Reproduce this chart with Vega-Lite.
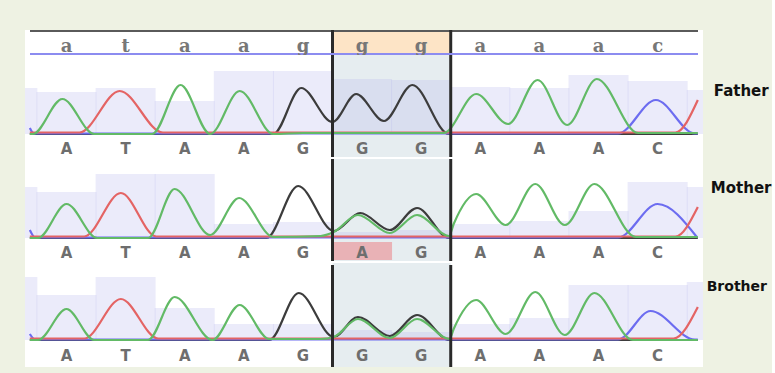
{
  "$schema": "https://vega.github.io/schema/vega-lite/v6.json",
  "background": "#eef2e3",
  "padding": {"left": 25, "top": 28, "right": 0, "bottom": 8},
  "spacing": 0,
  "bounds": "flush",
  "config": {"view": {"fill": "white", "stroke": null}, "axis": {"disable": true}},
  "datasets": {
    "bases": [
      {"pos": 0, "ref": "a", "father": "A", "mother": "A", "brother": "A", "target": false},
      {"pos": 1, "ref": "t", "father": "T", "mother": "T", "brother": "T", "target": false},
      {"pos": 2, "ref": "a", "father": "A", "mother": "A", "brother": "A", "target": false},
      {"pos": 3, "ref": "a", "father": "A", "mother": "A", "brother": "A", "target": false},
      {"pos": 4, "ref": "g", "father": "G", "mother": "G", "brother": "G", "target": false},
      {"pos": 5, "ref": "g", "father": "G", "mother": "A", "brother": "G", "target": true},
      {"pos": 6, "ref": "g", "father": "G", "mother": "G", "brother": "G", "target": true},
      {"pos": 7, "ref": "a", "father": "A", "mother": "A", "brother": "A", "target": false},
      {"pos": 8, "ref": "a", "father": "A", "mother": "A", "brother": "A", "target": false},
      {"pos": 9, "ref": "a", "father": "A", "mother": "A", "brother": "A", "target": false},
      {"pos": 10, "ref": "c", "father": "C", "mother": "C", "brother": "C", "target": false}
    ],
    "qF": [
      {"pos": -1, "q": 46}, {"pos": 0, "q": 42}, {"pos": 1, "q": 46}, {"pos": 2, "q": 33}, {"pos": 3, "q": 63},
      {"pos": 4, "q": 63}, {"pos": 5, "q": 55}, {"pos": 6, "q": 54}, {"pos": 7, "q": 47}, {"pos": 8, "q": 46},
      {"pos": 9, "q": 59}, {"pos": 10, "q": 53}, {"pos": 11, "q": 44}
    ],
    "qM": [
      {"pos": -1, "q": 51}, {"pos": 0, "q": 46}, {"pos": 1, "q": 64}, {"pos": 2, "q": 64}, {"pos": 3, "q": 14},
      {"pos": 4, "q": 16}, {"pos": 5, "q": 6}, {"pos": 6, "q": 8}, {"pos": 7, "q": 14}, {"pos": 8, "q": 17},
      {"pos": 9, "q": 27}, {"pos": 10, "q": 56}, {"pos": 11, "q": 51}
    ],
    "qB": [
      {"pos": -1, "q": 63}, {"pos": 0, "q": 45}, {"pos": 1, "q": 63}, {"pos": 2, "q": 32}, {"pos": 3, "q": 16},
      {"pos": 4, "q": 16}, {"pos": 5, "q": 10}, {"pos": 6, "q": 8}, {"pos": 7, "q": 16}, {"pos": 8, "q": 22},
      {"pos": 9, "q": 55}, {"pos": 10, "q": 55}, {"pos": 11, "q": 58}
    ],
    "tF": [
      {"ch": "G", "x": -0.62, "y": 0}, {"ch": "G", "x": 3.5, "y": 0}, {"ch": "G", "x": 3.97, "y": 46}, {"ch": "G", "x": 4.5, "y": 12}, {"ch": "G", "x": 4.9, "y": 40}, {"ch": "G", "x": 5.37, "y": 13}, {"ch": "G", "x": 5.85, "y": 49}, {"ch": "G", "x": 6.47, "y": 0}, {"ch": "G", "x": 10.68, "y": 0},
      {"ch": "C", "x": -0.62, "y": 6}, {"ch": "C", "x": -0.55, "y": 0.5}, {"ch": "C", "x": 9.33, "y": 0.5}, {"ch": "C", "x": 9.97, "y": 34}, {"ch": "C", "x": 10.63, "y": 0.5}, {"ch": "C", "x": 10.68, "y": 0.5},
      {"ch": "T", "x": -0.62, "y": 1.5}, {"ch": "T", "x": 0.22, "y": 1.5}, {"ch": "T", "x": 0.9, "y": 43}, {"ch": "T", "x": 1.63, "y": 1.5}, {"ch": "T", "x": 10.3, "y": 1.5}, {"ch": "T", "x": 10.68, "y": 34},
      {"ch": "A", "x": -0.62, "y": 0}, {"ch": "A", "x": -0.57, "y": 0}, {"ch": "A", "x": -0.07, "y": 35}, {"ch": "A", "x": 0.47, "y": 0}, {"ch": "A", "x": 1.45, "y": 0}, {"ch": "A", "x": 1.93, "y": 49}, {"ch": "A", "x": 2.43, "y": 0}, {"ch": "A", "x": 2.93, "y": 43}, {"ch": "A", "x": 3.5, "y": 0}, {"ch": "A", "x": 4.0, "y": 1}, {"ch": "A", "x": 6.38, "y": 1}, {"ch": "A", "x": 6.93, "y": 40}, {"ch": "A", "x": 7.47, "y": 10}, {"ch": "A", "x": 7.97, "y": 54}, {"ch": "A", "x": 8.47, "y": 9}, {"ch": "A", "x": 8.97, "y": 55}, {"ch": "A", "x": 9.67, "y": 1}, {"ch": "A", "x": 10.68, "y": 1}
    ],
    "tM": [
      {"ch": "G", "x": -0.62, "y": 0}, {"ch": "G", "x": 3.38, "y": 0}, {"ch": "G", "x": 3.92, "y": 52}, {"ch": "G", "x": 4.52, "y": 7}, {"ch": "G", "x": 4.97, "y": 25}, {"ch": "G", "x": 5.47, "y": 8}, {"ch": "G", "x": 5.93, "y": 30}, {"ch": "G", "x": 6.47, "y": 0}, {"ch": "G", "x": 10.68, "y": 0},
      {"ch": "C", "x": -0.62, "y": 8}, {"ch": "C", "x": -0.53, "y": 0.5}, {"ch": "C", "x": 9.33, "y": 0.5}, {"ch": "C", "x": 10.0, "y": 34}, {"ch": "C", "x": 10.67, "y": 0.5},
      {"ch": "T", "x": -0.62, "y": 1.5}, {"ch": "T", "x": 0.3, "y": 1.5}, {"ch": "T", "x": 0.92, "y": 45}, {"ch": "T", "x": 1.52, "y": 1.5}, {"ch": "T", "x": 10.3, "y": 1.5}, {"ch": "T", "x": 10.68, "y": 31},
      {"ch": "A", "x": -0.62, "y": 0}, {"ch": "A", "x": -0.48, "y": 0}, {"ch": "A", "x": 0.0, "y": 34}, {"ch": "A", "x": 0.52, "y": 0}, {"ch": "A", "x": 1.38, "y": 0}, {"ch": "A", "x": 1.83, "y": 49}, {"ch": "A", "x": 2.43, "y": 3}, {"ch": "A", "x": 2.92, "y": 40}, {"ch": "A", "x": 3.5, "y": 1}, {"ch": "A", "x": 4.3, "y": 2}, {"ch": "A", "x": 4.52, "y": 6}, {"ch": "A", "x": 4.93, "y": 23}, {"ch": "A", "x": 5.47, "y": 5}, {"ch": "A", "x": 5.93, "y": 23}, {"ch": "A", "x": 6.47, "y": 2}, {"ch": "A", "x": 6.55, "y": 14}, {"ch": "A", "x": 6.93, "y": 44}, {"ch": "A", "x": 7.43, "y": 13}, {"ch": "A", "x": 7.93, "y": 54}, {"ch": "A", "x": 8.43, "y": 13}, {"ch": "A", "x": 8.93, "y": 54}, {"ch": "A", "x": 9.63, "y": 1}, {"ch": "A", "x": 10.68, "y": 1}
    ],
    "tB": [
      {"ch": "G", "x": -0.62, "y": 0}, {"ch": "G", "x": 3.43, "y": 0}, {"ch": "G", "x": 3.93, "y": 47}, {"ch": "G", "x": 4.52, "y": 3}, {"ch": "G", "x": 4.93, "y": 23}, {"ch": "G", "x": 5.47, "y": 4}, {"ch": "G", "x": 5.93, "y": 25}, {"ch": "G", "x": 6.48, "y": 0}, {"ch": "G", "x": 10.68, "y": 0},
      {"ch": "C", "x": -0.62, "y": 6}, {"ch": "C", "x": -0.53, "y": 0.5}, {"ch": "C", "x": 9.33, "y": 0.5}, {"ch": "C", "x": 9.88, "y": 29}, {"ch": "C", "x": 10.63, "y": 0.5}, {"ch": "C", "x": 10.68, "y": 0.5},
      {"ch": "T", "x": -0.62, "y": 1.5}, {"ch": "T", "x": 0.3, "y": 1.5}, {"ch": "T", "x": 0.92, "y": 41}, {"ch": "T", "x": 1.55, "y": 1.5}, {"ch": "T", "x": 10.27, "y": 1.5}, {"ch": "T", "x": 10.68, "y": 33},
      {"ch": "A", "x": -0.62, "y": 0}, {"ch": "A", "x": -0.48, "y": 0}, {"ch": "A", "x": 0.0, "y": 31}, {"ch": "A", "x": 0.47, "y": 0}, {"ch": "A", "x": 1.38, "y": 0}, {"ch": "A", "x": 1.83, "y": 43}, {"ch": "A", "x": 2.47, "y": 0}, {"ch": "A", "x": 2.93, "y": 35}, {"ch": "A", "x": 3.43, "y": 1}, {"ch": "A", "x": 4.3, "y": 1}, {"ch": "A", "x": 4.52, "y": 3}, {"ch": "A", "x": 4.93, "y": 21}, {"ch": "A", "x": 5.47, "y": 2}, {"ch": "A", "x": 5.93, "y": 21}, {"ch": "A", "x": 6.48, "y": 1}, {"ch": "A", "x": 6.55, "y": 11}, {"ch": "A", "x": 6.93, "y": 40}, {"ch": "A", "x": 7.43, "y": 6}, {"ch": "A", "x": 7.93, "y": 48}, {"ch": "A", "x": 8.43, "y": 5}, {"ch": "A", "x": 8.93, "y": 47}, {"ch": "A", "x": 9.58, "y": 0}, {"ch": "A", "x": 10.68, "y": 0}
    ]
  },
  "vconcat": [
    {
      "width": 678, "height": 25,
      "layer": [
        {"data": {"name": "bases"}, "transform": [{"filter": "datum.target"}],
         "mark": {"type": "bar", "orient": "vertical", "width": 60, "color": "#fde4c6"},
         "encoding": {"x": {"field": "pos", "type": "quantitative", "scale": {"domain": [-0.617, 10.683]}},
                      "y": {"datum": 1, "type": "quantitative", "scale": {"domain": [0, 25]}}, "y2": {"datum": 24}}},
        {"data": {"values": [{}]}, "mark": {"type": "rule", "color": "#5a5a5a", "strokeWidth": 2},
         "encoding": {"x": {"datum": -0.617, "type": "quantitative", "scale": {"domain": [-0.617, 10.683]}}, "x2": {"datum": 10.683},
                      "y": {"datum": 24, "type": "quantitative", "scale": {"domain": [0, 25]}}}},
        {"data": {"values": [{}]}, "mark": {"type": "rule", "color": "#8c8cf0", "strokeWidth": 2},
         "encoding": {"x": {"datum": -0.617, "type": "quantitative", "scale": {"domain": [-0.617, 10.683]}}, "x2": {"datum": 10.683},
                      "y": {"datum": 1, "type": "quantitative", "scale": {"domain": [0, 25]}}}},
        {"data": {"values": [{}]}, "mark": {"type": "rule", "color": "#2a2a2a", "strokeWidth": 3},
         "encoding": {"x": {"datum": 4.5, "type": "quantitative", "scale": {"domain": [-0.617, 10.683]}},
                      "y": {"datum": 2, "type": "quantitative", "scale": {"domain": [0, 25]}}, "y2": {"datum": 25}}},
        {"data": {"values": [{}]}, "mark": {"type": "rule", "color": "#2a2a2a", "strokeWidth": 3},
         "encoding": {"x": {"datum": 6.5, "type": "quantitative", "scale": {"domain": [-0.617, 10.683]}},
                      "y": {"datum": 2, "type": "quantitative", "scale": {"domain": [0, 25]}}, "y2": {"datum": 25}}},
        {"data": {"name": "bases"},
         "mark": {"type": "text", "font": "DejaVu Serif", "fontWeight": "bold", "fontSize": 18, "color": "#777777", "baseline": "alphabetic"},
         "encoding": {"x": {"field": "pos", "type": "quantitative", "scale": {"domain": [-0.617, 10.683]}},
                      "y": {"datum": 3.5, "type": "quantitative", "scale": {"domain": [0, 25]}},
                      "text": {"field": "ref"}}}
      ]
    },
    {
      "width": 678, "height": 104,
      "layer": [
        {"data": {"values": [{}]}, "mark": {"type": "rect", "color": "#e6edf0"},
         "encoding": {"x": {"datum": 4.5, "type": "quantitative", "scale": {"domain": [-0.617, 10.683]}}, "x2": {"datum": 6.5},
                      "y": {"datum": -23, "type": "quantitative", "scale": {"domain": [-25, 79]}}, "y2": {"datum": 79}}},
        {"data": {"name": "qF"}, "mark": {"type": "bar", "orient": "vertical", "width": 60, "color": "#b8b8ee", "opacity": 0.28, "clip": true},
         "encoding": {"x": {"field": "pos", "type": "quantitative", "scale": {"domain": [-0.617, 10.683]}},
                      "y": {"field": "q", "type": "quantitative", "scale": {"domain": [-25, 79]}}}},
        {"data": {"name": "tF"}, "mark": {"type": "line", "interpolate": "monotone", "strokeWidth": 2.2, "clip": true},
         "encoding": {"x": {"field": "x", "type": "quantitative", "scale": {"domain": [-0.617, 10.683]}},
                      "y": {"field": "y", "type": "quantitative", "scale": {"domain": [-25, 79]}},
                      "color": {"field": "ch", "type": "nominal", "legend": null,
                                "scale": {"domain": ["G", "C", "T", "A"], "range": ["#3c3c3c", "#6c6cf0", "#e46464", "#62ba66"]}}}},
        {"data": {"values": [{}]}, "mark": {"type": "rule", "color": "#2a2a2a", "strokeWidth": 3},
         "encoding": {"x": {"datum": 4.5, "type": "quantitative", "scale": {"domain": [-0.617, 10.683]}},
                      "y": {"datum": -23, "type": "quantitative", "scale": {"domain": [-25, 79]}}, "y2": {"datum": 79}}},
        {"data": {"values": [{}]}, "mark": {"type": "rule", "color": "#2a2a2a", "strokeWidth": 3},
         "encoding": {"x": {"datum": 6.5, "type": "quantitative", "scale": {"domain": [-0.617, 10.683]}},
                      "y": {"datum": -23, "type": "quantitative", "scale": {"domain": [-25, 79]}}, "y2": {"datum": 79}}},
        {"data": {"name": "bases"},
         "mark": {"type": "text", "font": "DejaVu Sans", "fontWeight": "bold", "fontSize": 15, "color": "#6e6e6e", "baseline": "middle"},
         "encoding": {"x": {"field": "pos", "type": "quantitative", "scale": {"domain": [-0.617, 10.683]}},
                      "y": {"datum": -15, "type": "quantitative", "scale": {"domain": [-25, 79]}},
                      "text": {"field": "father"}}},
        {"data": {"values": [{}]},
         "mark": {"type": "text", "text": "Father", "font": "DejaVu Sans", "fontWeight": "bold", "fontSize": 15, "color": "#111111", "align": "left", "baseline": "middle"},
         "encoding": {"x": {"datum": 10.95, "type": "quantitative", "scale": {"domain": [-0.617, 10.683]}},
                      "y": {"datum": 43, "type": "quantitative", "scale": {"domain": [-25, 79]}}}}
      ]
    },
    {
      "width": 678, "height": 104,
      "layer": [
        {"data": {"values": [{}]}, "mark": {"type": "rect", "color": "#e6edf0"},
         "encoding": {"x": {"datum": 4.5, "type": "quantitative", "scale": {"domain": [-0.617, 10.683]}}, "x2": {"datum": 6.5},
                      "y": {"datum": -23, "type": "quantitative", "scale": {"domain": [-25, 79]}}, "y2": {"datum": 79}}},
        {"data": {"name": "qM"}, "mark": {"type": "bar", "orient": "vertical", "width": 60, "color": "#b8b8ee", "opacity": 0.28, "clip": true},
         "encoding": {"x": {"field": "pos", "type": "quantitative", "scale": {"domain": [-0.617, 10.683]}},
                      "y": {"field": "q", "type": "quantitative", "scale": {"domain": [-25, 79]}}}},
        {"data": {"name": "bases"}, "transform": [{"filter": "datum.mother != upper(datum.ref)"}],
         "mark": {"type": "bar", "orient": "vertical", "width": 60, "color": "#e9b2b6"},
         "encoding": {"x": {"field": "pos", "type": "quantitative", "scale": {"domain": [-0.617, 10.683]}},
                      "y": {"datum": -22, "type": "quantitative", "scale": {"domain": [-25, 79]}}, "y2": {"datum": -4}}},
        {"data": {"name": "tM"}, "mark": {"type": "line", "interpolate": "monotone", "strokeWidth": 2.2, "clip": true},
         "encoding": {"x": {"field": "x", "type": "quantitative", "scale": {"domain": [-0.617, 10.683]}},
                      "y": {"field": "y", "type": "quantitative", "scale": {"domain": [-25, 79]}},
                      "color": {"field": "ch", "type": "nominal", "legend": null,
                                "scale": {"domain": ["G", "C", "T", "A"], "range": ["#3c3c3c", "#6c6cf0", "#e46464", "#62ba66"]}}}},
        {"data": {"values": [{}]}, "mark": {"type": "rule", "color": "#2a2a2a", "strokeWidth": 3},
         "encoding": {"x": {"datum": 4.5, "type": "quantitative", "scale": {"domain": [-0.617, 10.683]}},
                      "y": {"datum": -23, "type": "quantitative", "scale": {"domain": [-25, 79]}}, "y2": {"datum": 79}}},
        {"data": {"values": [{}]}, "mark": {"type": "rule", "color": "#2a2a2a", "strokeWidth": 3},
         "encoding": {"x": {"datum": 6.5, "type": "quantitative", "scale": {"domain": [-0.617, 10.683]}},
                      "y": {"datum": -23, "type": "quantitative", "scale": {"domain": [-25, 79]}}, "y2": {"datum": 79}}},
        {"data": {"name": "bases"},
         "mark": {"type": "text", "font": "DejaVu Sans", "fontWeight": "bold", "fontSize": 15, "color": "#6e6e6e", "baseline": "middle"},
         "encoding": {"x": {"field": "pos", "type": "quantitative", "scale": {"domain": [-0.617, 10.683]}},
                      "y": {"datum": -15, "type": "quantitative", "scale": {"domain": [-25, 79]}},
                      "text": {"field": "mother"}}},
        {"data": {"values": [{}]},
         "mark": {"type": "text", "text": "Mother", "font": "DejaVu Sans", "fontWeight": "bold", "fontSize": 15, "color": "#111111", "align": "left", "baseline": "middle"},
         "encoding": {"x": {"datum": 10.9, "type": "quantitative", "scale": {"domain": [-0.617, 10.683]}},
                      "y": {"datum": 50, "type": "quantitative", "scale": {"domain": [-25, 79]}}}}
      ]
    },
    {
      "width": 678, "height": 104,
      "layer": [
        {"data": {"values": [{}]}, "mark": {"type": "rect", "color": "#e6edf0"},
         "encoding": {"x": {"datum": 4.5, "type": "quantitative", "scale": {"domain": [-0.617, 10.683]}}, "x2": {"datum": 6.5},
                      "y": {"datum": -27, "type": "quantitative", "scale": {"domain": [-27, 77]}}, "y2": {"datum": 77}}},
        {"data": {"name": "qB"}, "mark": {"type": "bar", "orient": "vertical", "width": 60, "color": "#b8b8ee", "opacity": 0.28, "clip": true},
         "encoding": {"x": {"field": "pos", "type": "quantitative", "scale": {"domain": [-0.617, 10.683]}},
                      "y": {"field": "q", "type": "quantitative", "scale": {"domain": [-27, 77]}}}},
        {"data": {"name": "tB"}, "mark": {"type": "line", "interpolate": "monotone", "strokeWidth": 2.2, "clip": true},
         "encoding": {"x": {"field": "x", "type": "quantitative", "scale": {"domain": [-0.617, 10.683]}},
                      "y": {"field": "y", "type": "quantitative", "scale": {"domain": [-27, 77]}},
                      "color": {"field": "ch", "type": "nominal", "legend": null,
                                "scale": {"domain": ["G", "C", "T", "A"], "range": ["#3c3c3c", "#6c6cf0", "#e46464", "#62ba66"]}}}},
        {"data": {"values": [{}]}, "mark": {"type": "rule", "color": "#2a2a2a", "strokeWidth": 3},
         "encoding": {"x": {"datum": 4.5, "type": "quantitative", "scale": {"domain": [-0.617, 10.683]}},
                      "y": {"datum": -27, "type": "quantitative", "scale": {"domain": [-27, 77]}}, "y2": {"datum": 75}}},
        {"data": {"values": [{}]}, "mark": {"type": "rule", "color": "#2a2a2a", "strokeWidth": 3},
         "encoding": {"x": {"datum": 6.5, "type": "quantitative", "scale": {"domain": [-0.617, 10.683]}},
                      "y": {"datum": -27, "type": "quantitative", "scale": {"domain": [-27, 77]}}, "y2": {"datum": 75}}},
        {"data": {"name": "bases"},
         "mark": {"type": "text", "font": "DejaVu Sans", "fontWeight": "bold", "fontSize": 15, "color": "#6e6e6e", "baseline": "middle"},
         "encoding": {"x": {"field": "pos", "type": "quantitative", "scale": {"domain": [-0.617, 10.683]}},
                      "y": {"datum": -16, "type": "quantitative", "scale": {"domain": [-27, 77]}},
                      "text": {"field": "brother"}}},
        {"data": {"values": [{}]},
         "mark": {"type": "text", "text": "Brother", "font": "DejaVu Sans", "fontWeight": "bold", "fontSize": 14, "color": "#111111", "align": "left", "baseline": "middle"},
         "encoding": {"x": {"datum": 10.83, "type": "quantitative", "scale": {"domain": [-0.617, 10.683]}},
                      "y": {"datum": 53, "type": "quantitative", "scale": {"domain": [-27, 77]}}}}
      ]
    }
  ]
}
